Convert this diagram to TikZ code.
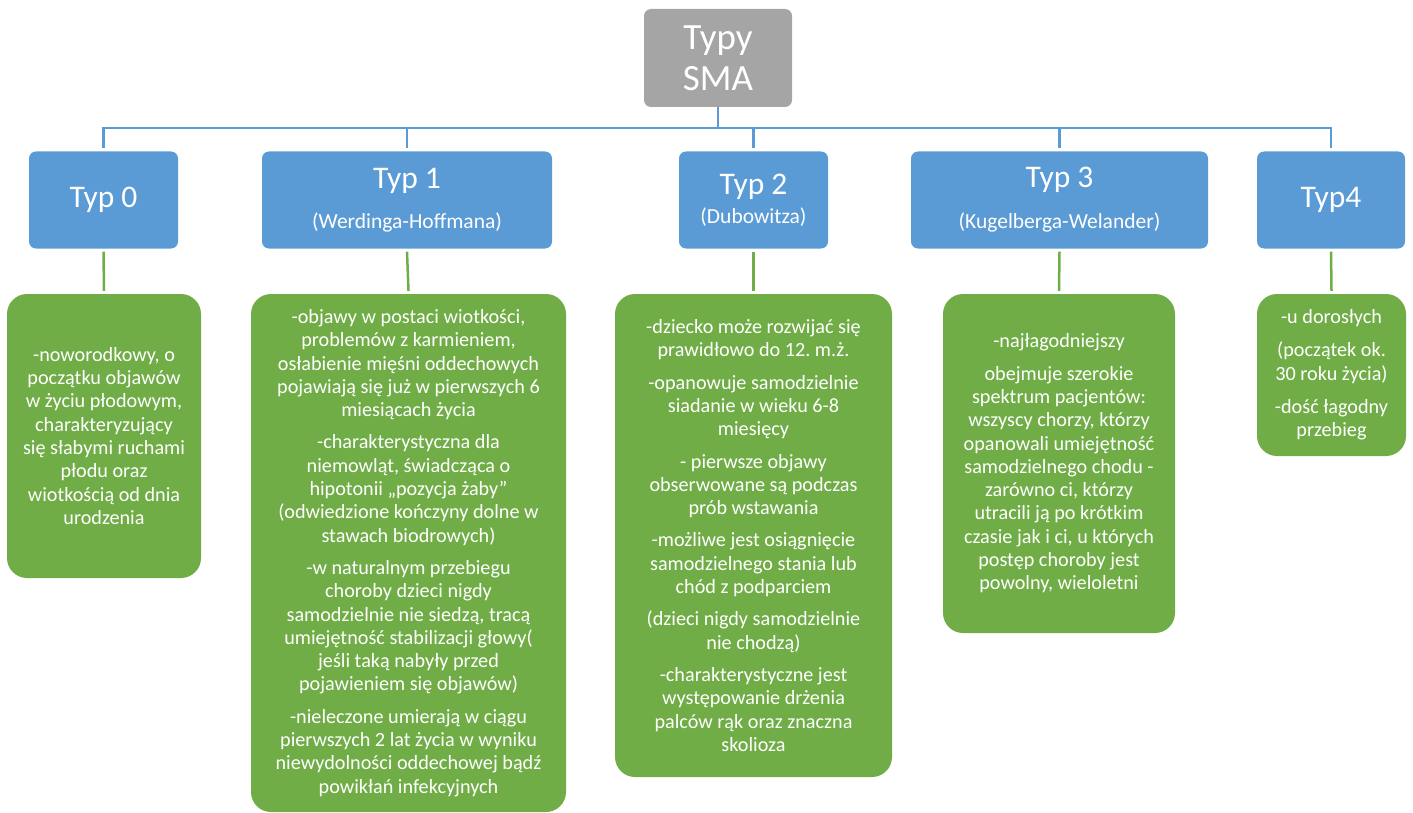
\documentclass[tikz,border=0pt]{standalone}
\usepackage{fontspec}
\setmainfont{Carlito}
\usepackage{tikz}
\usetikzlibrary{positioning, calc}
\definecolor{skycol}{HTML}{5B9BD5}
\definecolor{greycol}{HTML}{A5A5A5}
\definecolor{leafcol}{HTML}{70AD47}
\newcommand{\subfont}{\fontsize{21.5}{24}\selectfont}
\frenchspacing

\begin{document}
\begin{tikzpicture}[
  x=1pt, y=-1pt,
  every node/.style={text=white, align=center, inner sep=0pt},
  rootbox/.style={rectangle, rounded corners=7pt, fill=greycol,
                  minimum width=148pt, minimum height=98pt,
                  font=\fontsize{37}{41}\selectfont},
  typbox/.style={rectangle, rounded corners=7pt, fill=skycol,
                 minimum width=#1, minimum height=97pt,
                 font=\fontsize{31.5}{34}\selectfont},
  info/.style={rectangle, rounded corners=20pt, fill=leafcol,
               minimum width=#1, font=\fontsize{20.2}{23.3}\selectfont},
  bus/.style={draw=skycol, line width=2.5pt},
  twig/.style={draw=leafcol, line width=2.5pt},
]
  \useasboundingbox (0,0) rectangle (1413,813);

  \node[rootbox] (root) at (718,58) {Typy\\SMA};

  \node[typbox=149pt] (t0) at (103.5,200) {Typ 0};
  \node[typbox=290pt] (t1) at (407,200) {Typ 1\\[6pt]\subfont (Werdinga-Hoffmana)};
  \node[typbox=149pt] (t2) at (753.5,200) {Typ 2\\[-5pt]\subfont (Dubowitza)};
  \node[typbox=297pt] (t3) at (1059.5,200) {Typ 3\\[7pt]\subfont (Kugelberga-Welander)};
  \node[typbox=148pt] (t4) at (1331,200) {Typ4};

  \node[info=194pt, minimum height=284pt] (g0) at (104,436)
    {-noworodkowy, o\\początku objawów\\w życiu płodowym,\\charakteryzujący\\się słabymi ruchami\\płodu oraz\\wiotkością od dnia\\urodzenia};
  \node[info=315pt, minimum height=518pt] (g1) at (408.5,553)
    {-objawy w postaci wiotkości,\\problemów z karmieniem,\\osłabienie mięśni oddechowych\\pojawiają się już w pierwszych 6\\miesiącach życia\\[9pt]
     -charakterystyczna dla\\niemowląt, świadcząca o\\hipotonii „pozycja żaby”\\(odwiedzione kończyny dolne w\\stawach biodrowych)\\[9pt]
     -w naturalnym przebiegu\\choroby dzieci nigdy\\samodzielnie nie siedzą, tracą\\umiejętność stabilizacji głowy(\\jeśli taką nabyły przed\\pojawieniem się objawów)\\[9pt]
     -nieleczone umierają w ciągu\\pierwszych 2 lat życia w wyniku\\niewydolności oddechowej bądź\\powikłań infekcyjnych};
  \node[info=277pt, minimum height=483pt] (g2) at (753.5,535.5)
    {-dziecko może rozwijać się\\prawidłowo do 12. m.ż.\\[9pt]
     -opanowuje samodzielnie\\siadanie w wieku 6-8\\miesięcy\\[9pt]
     - pierwsze objawy\\obserwowane są podczas\\prób wstawania\\[9pt]
     -możliwe jest osiągnięcie\\samodzielnego stania lub\\chód z podparciem\\[9pt]
     (dzieci nigdy samodzielnie\\nie chodzą)\\[9pt]
     -charakterystyczne jest\\występowanie drżenia\\palców rąk oraz znaczna\\skolioza};
  \node[info=232pt, minimum height=339pt] (g3) at (1059,463.5)
    {-najłagodniejszy\\[9pt]
     obejmuje szerokie\\spektrum pacjentów:\\wszyscy chorzy, którzy\\opanowali umiejętność\\samodzielnego chodu -\\zarówno ci, którzy\\utracili ją po krótkim\\czasie jak i ci, u których\\postęp choroby jest\\powolny, wieloletni};
  \node[info=149pt, minimum height=162pt] (g4) at (1331.5,375)
    {-u dorosłych\\[10pt]
     (początek ok.\\30 roku życia)\\[10pt]
     -dość łagodny\\przebieg};

  \coordinate (hub) at (718,128);
  \draw[bus] (root.south) -- (hub);
  \draw[bus] (hub) -| ([yshift=3pt]t0.north);
  \draw[bus] (hub) -| ([yshift=3pt]t1.north);
  \draw[bus] (hub) -| ([yshift=3pt]t2.north);
  \draw[bus] (hub) -| ([yshift=3pt]t3.north);
  \draw[bus] (hub) -| ([yshift=3pt]t4.north);

  \draw[twig] ([yshift=-3pt]t0.south) -- ([yshift=3pt]g0.north);
  \draw[twig] ([yshift=-3pt]t1.south) -- ([yshift=3pt]g1.north);
  \draw[twig] ([yshift=-3pt]t2.south) -- ([yshift=3pt]g2.north);
  \draw[twig] ([yshift=-3pt]t3.south) -- ([yshift=3pt]g3.north);
  \draw[twig] ([yshift=-3pt]t4.south) -- ([yshift=3pt]g4.north);
\end{tikzpicture}
\end{document}
